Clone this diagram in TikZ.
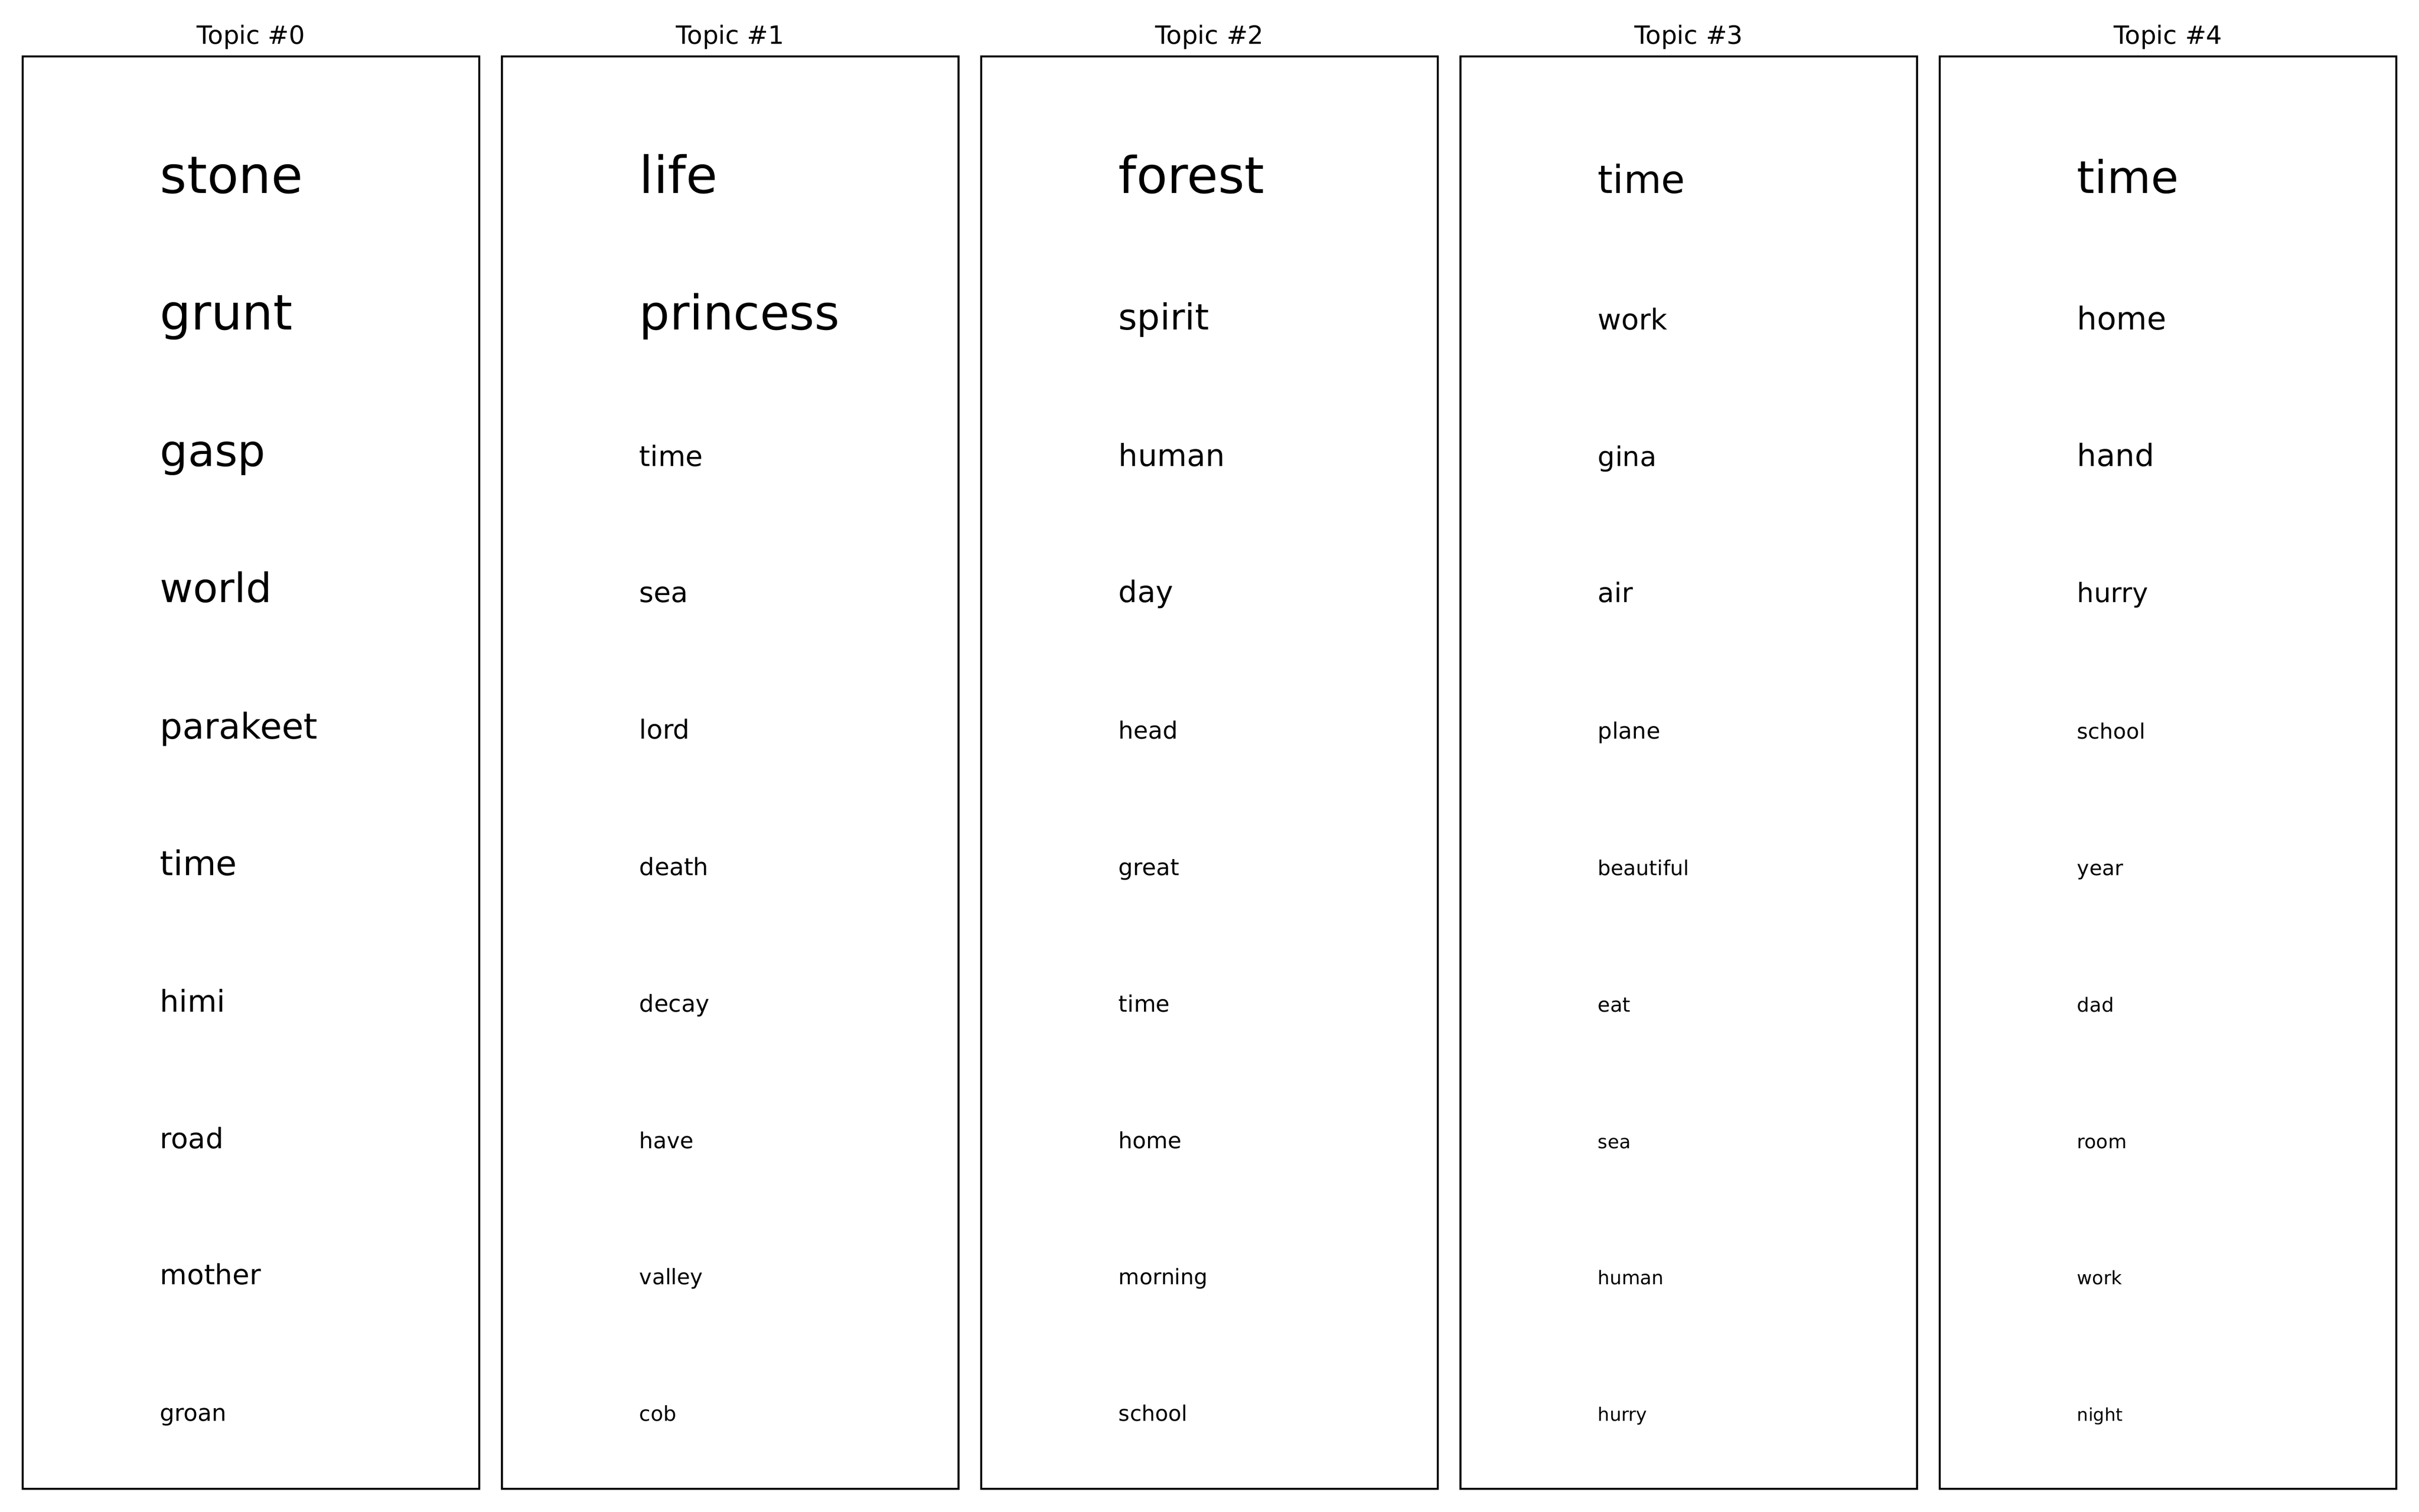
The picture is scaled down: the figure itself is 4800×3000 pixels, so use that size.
\documentclass[tikz,border=0pt]{standalone}
\usepackage{fontspec}
\setmainfont{DejaVu Sans}
\begin{document}
\begin{tikzpicture}[x=0.24pt,y=-0.24pt,
  panel/.style={draw=black,line width=0.8pt},
  ttl/.style={anchor=base,inner sep=0pt,font=\fontsize{12pt}{14pt}\selectfont},
  word/.style={anchor=base west,inner sep=0pt}]
\useasboundingbox (0,0) rectangle (4800,3000);
\foreach \c in {0,...,4}{
  \pgfmathsetmacro{\L}{45+951*\c}
  \draw[panel] (\L,112) rectangle ++(906,2843);
  \node[ttl] (t\c) at (\L+453,87) {Topic \#\c};
}
% column 0
\foreach \w/\s [count=\i from 0] in {stone/24.5,grunt/23.3,gasp/20.9,world/19.3,parakeet/16.9,time/16.2,himi/14.3,road/13.4,mother/13.2,groan/11.0}{
  \node[word,font=\fontsize{\s pt}{\s pt}\selectfont] (a\i) at (317,{383.5+270.8*\i}) {\w};
}
% column 1
\foreach \w/\s [count=\i from 0] in {life/24.4,princess/22.9,time/13.4,sea/13.3,lord/12.5,death/11.4,decay/11.1,have/10.5,valley/10.2,cob/9.8}{
  \node[word,font=\fontsize{\s pt}{\s pt}\selectfont] (b\i) at (1268,{383.5+270.8*\i}) {\w};
}
% column 2
\foreach \w/\s [count=\i from 0] in {forest/24.1,spirit/17.1,human/14.5,day/14.1,head/11.3,great/10.9,time/10.8,home/10.6,morning/10.2,school/10.2}{
  \node[word,font=\fontsize{\s pt}{\s pt}\selectfont] (c\i) at (2219,{383.5+270.8*\i}) {\w};
}
% column 3
\foreach \w/\s [count=\i from 0] in {time/18.4,work/13.7,gina/12.9,air/12.8,plane/10.7,beautiful/9.8,eat/9.6,sea/8.9,human/9.0,hurry/8.8}{
  \node[word,font=\fontsize{\s pt}{\s pt}\selectfont] (d\i) at (3170,{383.5+270.8*\i}) {\w};
}
% column 4
\foreach \w/\s [count=\i from 0] in {time/21.4,home/15.0,hand/14.6,hurry/12.7,school/10.1,year/9.8,dad/9.3,room/9.1,work/8.8,night/8.4}{
  \node[word,font=\fontsize{\s pt}{\s pt}\selectfont] (e\i) at (4121,{383.5+270.8*\i}) {\w};
}
\end{tikzpicture}
\end{document}
